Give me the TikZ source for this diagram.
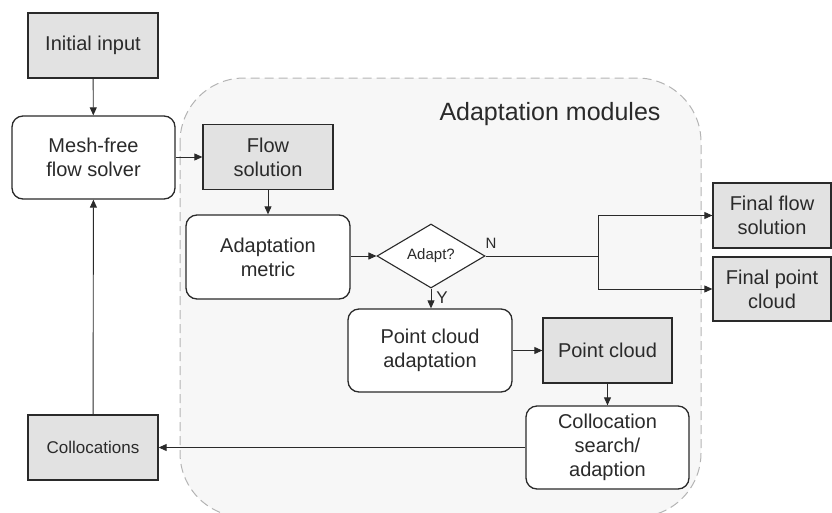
\documentclass[tikz,border=0pt]{standalone}
\usepackage{fontspec}
\setmainfont{Liberation Sans}
\usetikzlibrary{shapes.geometric,arrows.meta}
\definecolor{boxgray}{HTML}{E2E2E2}
\definecolor{regionfill}{HTML}{F7F7F7}
\definecolor{regionline}{HTML}{B4B4B4}
\definecolor{ink}{HTML}{2A2A2A}
\begin{document}
\begin{tikzpicture}[x=1pt,y=-1pt,
  every node/.style={text=ink, align=center, inner sep=0pt},
  databox/.style={draw=ink, line width=1.3pt, fill=boxgray, rectangle, font=\fontsize{20}{24}\selectfont},
  procbox/.style={draw=ink, line width=1.3pt, fill=white, rectangle, rounded corners=11pt, font=\fontsize{20}{24}\selectfont},
  decbox/.style={draw=ink, line width=1.1pt, fill=white, diamond, font=\fontsize{15}{18}\selectfont},
  conn/.style={draw=ink, line width=0.9pt, -{Triangle[length=8pt,width=7pt]}},
  plainconn/.style={draw=ink, line width=0.9pt},
  lbl/.style={font=\fontsize{15}{18}\selectfont}
]
\useasboundingbox (0,0) rectangle (832,512);
\clip (0,0) rectangle (832,512);
% region
\draw[regionline, fill=regionfill, line width=1pt, dash pattern=on 9pt off 5pt, rounded corners=64pt] (180,78) rectangle (701,517);
\node[font=\fontsize{25}{30}\selectfont, anchor=base] (title) at (550,120) {Adaptation modules};

% nodes
\node[databox, minimum width=130, minimum height=65] (init) at (93,45.5) {Initial input};
\node[procbox, minimum width=163, minimum height=83] (solver) at (93.5,157.5) {Mesh-free\\flow solver};
\node[databox, minimum width=130, minimum height=65] (flowsol) at (268,157) {Flow\\solution};
\node[procbox, minimum width=164, minimum height=84] (metric) at (268,257) {Adaptation\\metric};
\node[decbox, minimum width=108, minimum height=64] (adapt) at (431,256) {Adapt?};
\node[procbox, minimum width=164, minimum height=83] (pcadapt) at (430,350.5) {Point cloud\\adaptation};
\node[databox, minimum width=129, minimum height=65] (pc) at (607.5,350.5) {Point cloud};
\node[procbox, minimum width=163, minimum height=83] (colsearch) at (607.5,447.5) {Collocation\\search/\\adaption};
\node[databox, minimum width=130, minimum height=65, font=\fontsize{17}{20}\selectfont] (colloc) at (93,447.5) {Collocations};
\node[databox, minimum width=118, minimum height=65] (finalflow) at (772,215.5) {Final flow\\solution};
\node[databox, minimum width=118, minimum height=64] (finalpc) at (772,289) {Final point\\cloud};

\coordinate (branch) at (598,256);

% connectors
\draw[conn] (init) -- (solver);
\draw[conn] (solver.east |- flowsol.west) -- (flowsol.west);
\draw[conn] (flowsol) -- (metric);
\draw[conn] (metric.east |- adapt.west) -- (adapt.west);
\draw[conn] (adapt.south) -- (adapt.south |- pcadapt.north);
\draw[conn] (pcadapt) -- (pc);
\draw[conn] (pc) -- (colsearch);
\draw[conn] (colsearch.west) -- (colloc.east);
\draw[conn] (colloc) -- (solver);
\draw[plainconn] (adapt.east) -- (branch);
\draw[conn] (branch) |- (finalflow.west);
\draw[conn] (branch) |- (finalpc.west);

\node[lbl] (nlabel) at (491,243) {N};
\node[lbl, font=\fontsize{17}{20}\selectfont] (ylabel) at (442,298) {Y};
\end{tikzpicture}
\end{document}
